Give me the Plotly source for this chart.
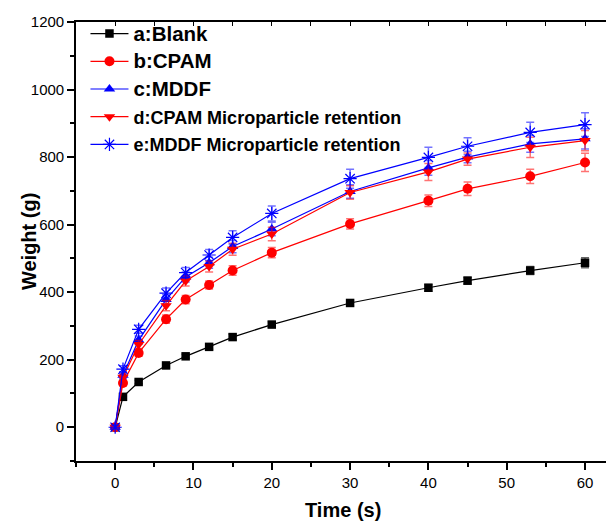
import plotly.graph_objects as go

time_s = [0, 1, 3, 6.5, 9, 12, 15, 20, 30, 40, 45, 53, 60]

names = ["a:Blank", "b:CPAM", "c:MDDF",
         "d:CPAM Microparticle retention", "e:MDDF Microparticle retention"]
name_sizes = [20.5, 20.5, 20.5, 18, 18]

blank = [0, 90, 134, 183, 210, 238, 267, 304, 368, 413, 434, 464, 487]
cpam = [0, 131, 220, 320, 378, 421, 464, 517, 602, 671, 706, 743, 784]
mddf = [0, 154, 258, 378, 445, 487, 535, 587, 698, 768, 800, 839, 854]
cpam_mr = [0, 148, 245, 360, 433, 476, 527, 572, 695, 756, 794, 829, 849]
mddf_mr = [0, 172, 290, 397, 458, 510, 562, 633, 736, 799, 832, 873, 896]

blank_err = [3, 5, 5, 6, 6, 7, 8, 8, 8, 10, 10, 12, 15]
cpam_err = [5, 8, 10, 12, 12, 12, 14, 15, 15, 17, 20, 21, 27]
mddf_err = [5, 10, 12, 14, 15, 16, 18, 20, 20, 22, 17, 25, 30]
cpam_mr_err = [5, 10, 12, 15, 15, 16, 18, 20, 20, 25, 18, 30, 30]
mddf_mr_err = [5, 10, 12, 15, 15, 16, 20, 22, 28, 30, 25, 30, 35]

series = [blank, cpam, mddf, cpam_mr, mddf_mr]
errors = [blank_err, cpam_err, mddf_err, cpam_mr_err, mddf_mr_err]
colors = ["#000000", "#ff0000", "#0000ff", "#ff0000", "#0000ff"]
err_colors = ["rgba(0,0,0,0.6)", "rgba(255,0,0,0.55)", "rgba(0,0,255,0.55)",
              "rgba(255,0,0,0.55)", "rgba(0,0,255,0.55)"]
symbols = ["square", "circle", "triangle-up", "triangle-down", "asterisk-open"]
sizes = [8.5, 10, 10, 10, 11]

FONT = "Arial, Liberation Sans, sans-serif"

fig = go.Figure()
for i in range(5):
    is_star = symbols[i].startswith("asterisk")
    label = f'<span style="font-size:{name_sizes[i]}px"><b>{names[i]}</b></span>'
    fig.add_trace(go.Scatter(
        x=time_s, y=series[i], name=label, mode="lines+markers",
        legendgroup=f"g{i}",
        line=dict(color=colors[i], width=1.2),
        marker=dict(symbol=symbols[i], size=sizes[i], color=colors[i],
                    line=dict(color=colors[i], width=1.2 if is_star else 0)),
        error_y=dict(type="data", array=errors[i], visible=True,
                     color=err_colors[i], thickness=1.5, width=4),
        cliponaxis=False,
    ))

fig.update_layout(
    width=606, height=514,
    margin=dict(l=67.5, r=0, t=14, b=61.3),
    paper_bgcolor="white", plot_bgcolor="white",
    font=dict(family=FONT, color="black", size=15),
    showlegend=True,
    legend=dict(x=0.0176, y=1.015, xanchor="left", yanchor="top",
                bgcolor="rgba(0,0,0,0)", borderwidth=0,
                tracegroupgap=1.3, itemwidth=38,
                font=dict(size=18, family=FONT)),
    xaxis=dict(range=[-5, 63.7], showgrid=False, zeroline=False, automargin=False,
               showline=True, linecolor="black", linewidth=1.6,
               ticks="outside", ticklen=7, tickwidth=1.5, tickcolor="black",
               dtick=10, tick0=0,
               minor=dict(ticks="outside", ticklen=4, tickwidth=1.5,
                          tickcolor="black", dtick=5, tick0=-5)),
    xaxis2=dict(range=[-5, 63.7], overlaying="x", side="top", matches="x",
                automargin=False,
                showgrid=False, zeroline=False, showticklabels=False,
                showline=True, linecolor="black", linewidth=1.6,
                ticks="inside", ticklen=4, tickwidth=1.2, tickcolor="black",
                dtick=5, tick0=-5),
    yaxis=dict(range=[-100, 1200], showgrid=False, zeroline=False, automargin=False,
               showline=True, linecolor="black", linewidth=1.6,
               ticks="outside", ticklen=7, tickwidth=1.5, tickcolor="black",
               dtick=200, tick0=0,
               minor=dict(ticks="outside", ticklen=4, tickwidth=1.5,
                          tickcolor="black", dtick=100, tick0=-100)),
    annotations=[
        dict(text="<b>Time (s)</b>", xref="paper", yref="paper", x=0.497, y=-0.1124,
             xanchor="center", yanchor="middle", showarrow=False,
             font=dict(size=20, family=FONT, color="black")),
        dict(text="<b>Weight (g)</b>", xref="paper", yref="paper", x=-0.0882, y=0.5,
             xanchor="center", yanchor="middle", showarrow=False, textangle=-90,
             font=dict(size=20, family=FONT, color="black")),
    ],
)
# invisible trace to activate the top axis
fig.add_trace(go.Scatter(x=[0], y=[0], xaxis="x2", mode="markers",
                         marker=dict(opacity=0), showlegend=False, hoverinfo="skip"))

fig.write_html("out.html")
